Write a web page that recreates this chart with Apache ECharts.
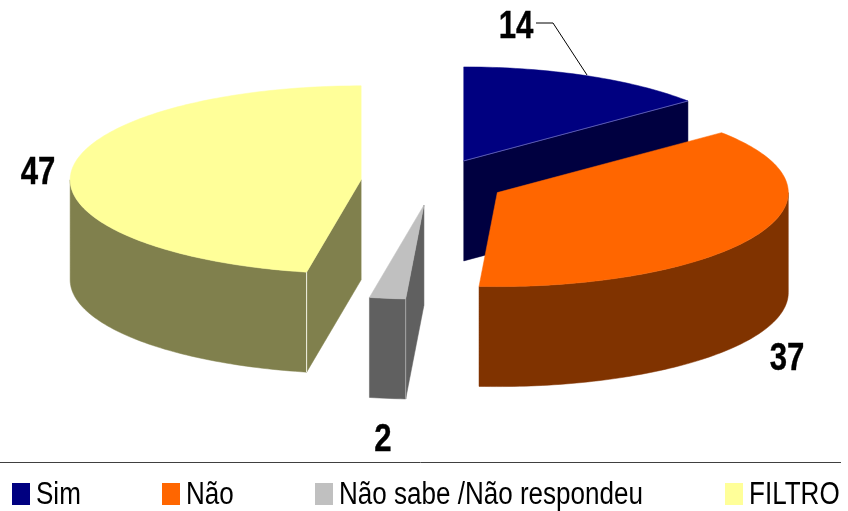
<!DOCTYPE html>
<html>
<head>
<meta charset="utf-8">
<script src="https://cdn.jsdelivr.net/npm/echarts@6/dist/echarts.min.js"></script>
<style>
    html, body { margin: 0; background: #fff; }
    #chart { width: 848px; height: 511px; }
</style>
</head>
<body>
<div id="chart"></div>
<script>
const categories = ['Sim', 'Não', 'Não sabe /Não respondeu', 'FILTRO'];
const values = [14, 37, 2, 47];
const topColors = ['#000080', '#ff6600', '#c0c0c0', '#ffff99'];
const sideColors = ['#000040', '#803300', '#606060', '#80804d'];
const seamColors = ['#5a5ab0', '#c06a30', '#a8a8a8', '#f4f4e8'];

// pie geometry in pixels, the slices are pushed out along their bisector
const center = [433, 182];
const rx = 291, ry = 94, depth = 100, explode = 0.248;
const legendLeft = [12, 162, 315, 725];
const font = '"Liberation Sans", sans-serif';

const total = values.reduce((a, b) => a + b, 0);
const toRad = v => v / total * Math.PI * 2;
const starts = values.map((v, i) => toRad(values.slice(0, i).reduce((a, b) => a + b, 0)));

function pt(o, a, dy) {
    return [o[0] + rx * Math.sin(a), o[1] - ry * Math.cos(a) + (dy || 0)];
}

function arc(o, a0, a1, dy) {
    const n = Math.max(2, Math.ceil((a1 - a0) / 0.02));
    const pts = [];
    for (let i = 0; i <= n; i++) pts.push(pt(o, a0 + (a1 - a0) * i / n, dy));
    return pts;
}

function poly(points, color, z2) {
    return { type: 'polygon', z2: z2, shape: { points: points }, style: { fill: color, stroke: color, lineWidth: 0.5 } };
}

function seam(p, q, color) {
    return { type: 'line', z2: 5, shape: { x1: p[0], y1: p[1], x2: q[0], y2: q[1] }, style: { stroke: color, lineWidth: 1 } };
}

function renderSlice(params, api) {
    const i = params.seriesIndex;
    const a0 = starts[i];
    const a1 = a0 + toRad(api.value(0));
    const mid = (a0 + a1) / 2;
    const o = [center[0] + explode * rx * Math.sin(mid), center[1] - explode * ry * Math.cos(mid)];
    const children = [];

    // the cut faces, only the ones turned towards the viewer
    if (Math.sin(a0) < -1e-6) {
        const p = pt(o, a0);
        children.push(poly([o, p, [p[0], p[1] + depth], [o[0], o[1] + depth]], sideColors[i], 1));
    }
    if (Math.sin(a1) > 1e-6) {
        const p = pt(o, a1);
        children.push(poly([o, p, [p[0], p[1] + depth], [o[0], o[1] + depth]], sideColors[i], 1));
        children.push(seam(o, p, seamColors[i]));
    }

    // the outer wall, front half of the ellipse
    const w0 = Math.max(a0, Math.PI / 2);
    const w1 = Math.min(a1, Math.PI * 1.5);
    if (w1 > w0) {
        const wall = arc(o, w0, w1).concat(arc(o, w0, w1, depth).reverse());
        children.push(poly(wall, sideColors[i], 2));
        if (Math.sin(a0) < -1e-6) {
            const p = pt(o, a0);
            children.push(seam(p, [p[0], p[1] + depth], seamColors[i]));
        }
    }

    // the top
    children.push(poly([o].concat(arc(o, a0, a1)), topColors[i], 3));
    return { type: 'group', children: children };
}

const sliceSeries = categories.map((name, i) => ({
    type: 'custom',
    name: name,
    coordinateSystem: 'none',
    renderItem: renderSlice,
    itemStyle: { color: topColors[i] },
    data: [[values[i]]],
    silent: true
}));

const labelPos = [[516, 28], [787, 360], [383, 441], [38, 174]];

// no narrow font here, so the text is squeezed sideways
const labelTexts = values.map((v, i) => ({
    type: 'text',
    x: labelPos[i][0],
    y: labelPos[i][1],
    scaleX: 0.82,
    style: {
        text: String(v), fontFamily: font, fontWeight: 'bold', fontSize: 38, fill: '#000',
        stroke: '#000', lineWidth: 0.4, align: 'center', verticalAlign: 'middle'
    }
}));

const legendItems = [];
categories.forEach((name, i) => {
    legendItems.push({
        type: 'rect',
        shape: { x: legendLeft[i], y: 483, width: 18, height: 22 },
        style: { fill: topColors[i] }
    });
    legendItems.push({
        type: 'text',
        x: legendLeft[i] + 24,
        y: 495,
        scaleX: 0.84,
        style: { text: name, fontFamily: font, fontSize: 31, fill: '#000', align: 'left', verticalAlign: 'middle' }
    });
});

const chart = echarts.init(document.getElementById('chart'));
chart.setOption({
    animation: false,
    backgroundColor: '#fff',
    graphic: {
        elements: labelTexts.concat(legendItems, [
            {
                type: 'polyline',
                shape: { points: [[536, 23], [553, 23], [587, 75]] },
                style: { stroke: '#000', lineWidth: 1, fill: 'none' }
            },
            {
                type: 'line',
                shape: { x1: 0, y1: 462.5, x2: 841, y2: 462.5 },
                style: { stroke: '#404040', lineWidth: 1 }
            }
        ])
    },
    series: sliceSeries
});
</script>
</body>
</html>
